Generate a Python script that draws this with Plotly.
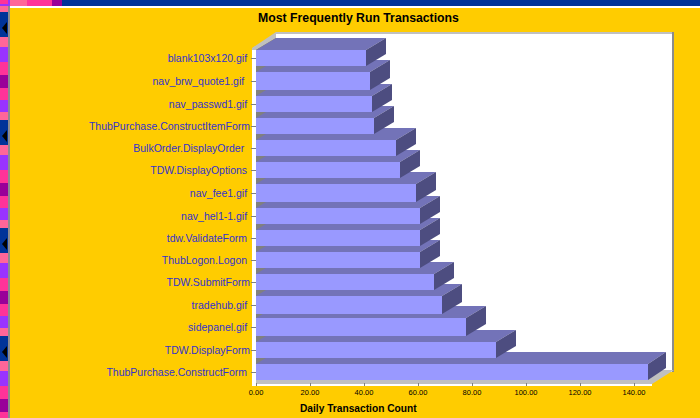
import plotly.graph_objects as go

# Data (bottom row first)
transactions = ["ThubPurchase.ConstructForm\u00a0", "TDW.DisplayForm", "sidepanel.gif\u00a0", "tradehub.gif\u00a0",
                "TDW.SubmitForm", "ThubLogon.Logon\u00a0", "tdw.ValidateForm\u00a0", "nav_hel1-1.gif\u00a0",
                "nav_fee1.gif\u00a0", "TDW.DisplayOptions\u00a0", "BulkOrder.DisplayOrder\u00a0\u00a0",
                "ThubPurchase.ConstructItemForm", "nav_passwd1.gif\u00a0", "nav_brw_quote1.gif\u00a0\u00a0",
                "blank103x120.gif\u00a0"]
daily_counts = [145.19, 88.89, 77.78, 68.89, 65.93, 60.74, 60.74, 60.74, 59.26, 53.33, 51.85, 43.7, 42.96, 42.22, 40.74]
x_ticks = [0, 20, 40, 60, 80, 100, 120, 140]

# Frame geometry (pixels)
W, H = 700, 418
L, R, T, B = 251, 690, 20, 386
X0_PX, PX_PER_UNIT = 256, 2.7
ROW0_PX, ROW_PX = 372, 22.4
DEPTH_X_PX, DEPTH_Y_PX = 20, 12
BACK_LIMIT_PX = 666
ROW_TOP_PX = [364, 342, 318, 296, 274, 252, 230, 208, 184, 162, 140, 118, 96, 72, 50]
ROW_BOTTOM_PX = [380, 358, 336, 314, 290, 268, 246, 224, 202, 178, 156, 134, 112, 90, 66]

dx = DEPTH_X_PX / PX_PER_UNIT
dy = DEPTH_Y_PX / ROW_PX
x_limit = (BACK_LIMIT_PX - X0_PX) / PX_PER_UNIT


def row_y(pixel):
    return (ROW0_PX - pixel) / ROW_PX


FRONT, TOP, SIDE = "#9999FF", "#7373B8", "#4D4D80"

fig = go.Figure()


def face(xs, ys, color):
    fig.add_trace(go.Scatter(x=xs + xs[:1], y=ys + ys[:1], mode="lines", fill="toself",
                             fillcolor=color, line=dict(color=color, width=0),
                             hoverinfo="skip", showlegend=False))


for v, top_px, bottom_px in zip(daily_counts, ROW_TOP_PX, ROW_BOTTOM_PX):
    y1, y0 = row_y(top_px), row_y(bottom_px)
    back = min(v + dx, x_limit)
    face([0, dx, back, v], [y1, y1 + dy, y1 + dy, y1], TOP)
    face([v, back, back, v], [y1, y1 + dy, y0 + dy, y0], SIDE)
    face([0, v, v, 0], [y0, y0, y1, y1], FRONT)


def px(x):
    return (x - L) / (R - L)


def py(y):
    return (B - y) / (B - T)


def poly(points, color):
    path = "M " + " L ".join(f"{px(a):.5f} {py(b):.5f}" for a, b in points) + " Z"
    return dict(type="path", xref="paper", yref="paper", path=path, fillcolor=color,
                line=dict(width=0), layer="below")


def rect(x0, y0, x1, y1, color):
    return poly([(x0, y0), (x1, y0), (x1, y1), (x0, y1)], color)


shapes = []
# page chrome
shapes.append(rect(0, 0, 700, 6, "#003399"))
for a, b, c in [(0, 10, "#9933FF"), (10, 27, "#FF6699"), (27, 52, "#FF3399"), (52, 62, "#990099")]:
    shapes.append(rect(a, 0, b, 6, c))
shapes.append(rect(8, 6, 700, 8, "#FFFFFF"))
shapes.append(rect(8, 6, 10, 418, "#8C8C8C"))
shapes.append(rect(0, 6, 8, 418, "#003399"))
bands = [(37, 47, "#FF6699"), (47, 62, "#9933FF"), (62, 75, "#FF3399"), (75, 88, "#990099"),
         (88, 100, "#FF3399"), (100, 112, "#9933FF"), (112, 120, "#FF6699")]
for k in range(-1, 4):
    off = 108 * k
    for a, b, c in bands:
        shapes.append(rect(0, max(a + off, 6), 8, min(b + off, 418), c))
    shapes.append(poly([(2, 28 + off), (7, 22 + off), (7, 34 + off)], "#000000"))
# back wall, frame and floor
shapes.append(rect(276, 34, 672, 372, "#FFFFFF"))
shapes.append(rect(252, 48, 256, 386, "#FFFFFF"))
shapes.append(rect(252, 384, 652, 386, "#FFFFFF"))
shapes.append(poly([(252, 48), (276, 32), (672, 32), (672, 34), (276, 34), (276, 38), (256, 50), (252, 50)], "#C0C0C0"))
shapes.append(rect(672, 32, 674, 372, "#8C8C8C"))
shapes.append(poly([(256, 50), (276, 38), (276, 368), (256, 380)], "#808080"))
shapes.append(poly([(256, 380), (276, 368), (276, 370), (674, 370), (652, 384), (256, 384)], "#C0C0C0"))

fig.update_layout(
    width=W, height=H, margin=dict(l=L, r=W - R, t=T, b=H - B, pad=0, autoexpand=False),
    paper_bgcolor="#FFCC00", plot_bgcolor="rgba(0,0,0,0)", showlegend=False,
    font=dict(family="Liberation Sans, Arial, sans-serif"),
    title=dict(text="<b>Most Frequently Run Transactions</b>", x=358.5 / W, y=1 - 18 / H,
               xanchor="center", yanchor="middle",
               font=dict(size=12.25, color="#000000")),
    shapes=shapes,
    annotations=[dict(text="<b>Daily Transaction Count</b>", xref="paper", yref="paper",
                      x=px(358), y=py(408.5), xanchor="center", yanchor="middle", showarrow=False,
                      font=dict(size=10.2, color="#000000"))],
    xaxis=dict(range=[(L - X0_PX) / PX_PER_UNIT, (R - X0_PX) / PX_PER_UNIT],
               tickvals=x_ticks, ticktext=[f"{t:.2f}" for t in x_ticks],
               ticks="inside", ticklen=3, tickwidth=1, tickcolor="#808080",
               showgrid=False, zeroline=False, showline=False, automargin=False,
               tickfont=dict(size=7.5, color="#000000")),
    yaxis=dict(range=[(ROW0_PX - B) / ROW_PX, (ROW0_PX - T) / ROW_PX],
               tickvals=[row_y((a + b) / 2) for a, b in zip(ROW_TOP_PX, ROW_BOTTOM_PX)],
               ticktext=transactions,
               ticks="inside", ticklen=5, tickwidth=1, tickcolor="#808080",
               showgrid=False, zeroline=False, showline=False, automargin=False,
               tickfont=dict(size=10.5, color="#3333CC")),
)

fig.write_html("out.html", config=dict(displayModeBar=False),
               post_script="document.body.style.margin='0';document.body.style.overflow='hidden';")
